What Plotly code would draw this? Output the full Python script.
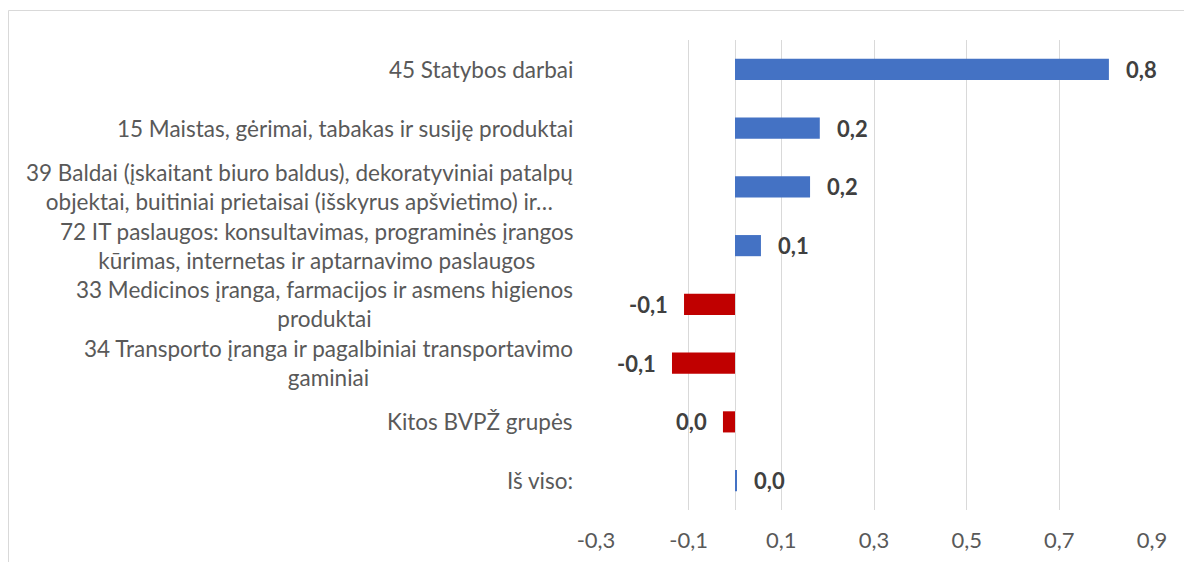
import plotly.graph_objects as go

categories = [
    "45 Statybos darbai",
    "15 Maistas, gėrimai, tabakas ir susiję produktai",
    "39 Baldai (įskaitant biuro baldus), dekoratyviniai patalpų<br>objektai, buitiniai prietaisai (išskyrus apšvietimo) ir…",
    "72 IT paslaugos: konsultavimas, programinės įrangos<br>kūrimas, internetas ir aptarnavimo paslaugos",
    "33 Medicinos įranga, farmacijos ir asmens higienos<br>produktai",
    "34 Transporto įranga ir pagalbiniai transportavimo<br>gaminiai",
    "Kitos BVPŽ grupės",
    "Iš viso:",
]
values = [0.807, 0.183, 0.162, 0.056, -0.110, -0.136, -0.026, 0.004]
value_labels = ["0,8", "0,2", "0,2", "0,1", "-0,1", "-0,1", "0,0", "0,0"]
tick_values = [-0.3, -0.1, 0.1, 0.3, 0.5, 0.7, 0.9]
tick_labels = ["-0,3", "-0,1", "0,1", "0,3", "0,5", "0,7", "0,9"]

BLUE = "#4472C4"
RED = "#C00000"
FONT = "Lato"

ids = list(range(len(categories)))
colors = [BLUE if v >= 0 else RED for v in values]

fig = go.Figure(
    go.Bar(
        x=values,
        y=ids,
        orientation="h",
        marker=dict(color=colors, line=dict(width=0)),
        width=0.36,
        hoverinfo="skip",
    )
)

annotations = []
for i, cat in enumerate(categories):
    annotations.append(dict(
        x=0, xref="paper", y=i, yref="y",
        xanchor="right", yanchor="middle", xshift=-21,
        text=cat, showarrow=False, align="center",
        font=dict(family=FONT, size=22.5, color="#595959"),
    ))
for i, (v, lab) in enumerate(zip(values, value_labels)):
    pos = v >= 0
    annotations.append(dict(
        x=v, y=i, xref="x", yref="y",
        xanchor="left" if pos else "right", yanchor="middle",
        xshift=15 if pos else -14,
        text="<b>" + lab + "</b>", showarrow=False,
        font=dict(family=FONT, size=22, color="#404040"),
    ))

fig.update_layout(
    width=1192, height=562,
    margin=dict(l=588, r=48, t=32, b=60),
    paper_bgcolor="white", plot_bgcolor="white",
    showlegend=False,
    annotations=annotations,
    xaxis=dict(
        range=[-0.3, 0.9], tickvals=tick_values, ticktext=tick_labels,
        showgrid=True, gridcolor="#D9D9D9", gridwidth=1,
        zeroline=True, zerolinecolor="#D9D9D9", zerolinewidth=1,
        showline=False, ticks="", ticklabelstandoff=15,
        tickfont=dict(family=FONT, size=22, color="#595959"),
        automargin=False,
    ),
    yaxis=dict(
        range=[7.5, -0.5], showticklabels=False, showgrid=False,
        zeroline=False, showline=False, ticks="", automargin=False,
    ),
    shapes=[dict(
        type="rect", xref="paper", yref="paper",
        x0=(0.5 - 588) / 556, x1=1.2, y0=-0.3, y1=(502 - 2.5) / 470,
        line=dict(color="#D9D9D9", width=1), layer="below",
    )],
)

fig.write_html("out.html")
